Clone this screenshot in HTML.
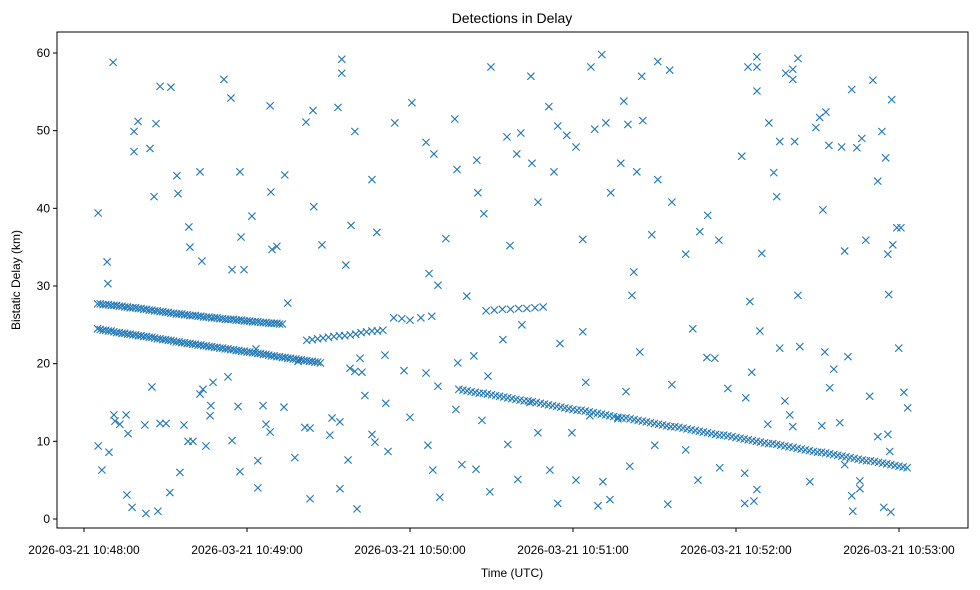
<!DOCTYPE html>
<html><head><meta charset="utf-8"><style>
body{margin:0;background:#fff;}
svg{display:block;font-family:"Liberation Sans",sans-serif;}
</style></head><body>
<svg id="chart" width="980" height="590">
<rect x="0" y="0" width="980" height="590" fill="#fff"/>
<text x="512" y="23" text-anchor="middle" font-size="14">Detections in Delay</text>
<text x="512" y="577" text-anchor="middle" font-size="12">Time (UTC)</text>
<text transform="translate(20,280) rotate(-90)" text-anchor="middle" font-size="12">Bistatic Delay (km)</text>
<g id="marks"></g>
<g id="axes"></g>
</svg>
<script>
// seconds after 10:48:00 UTC and bistatic delay in km
const lineATimes=[5,7,9,11,13,15,17,19,21,23,25,27,29,31,33,35,37,39,41,43,45,47,49,51,53,55,57,59,61,63,65,67,69,71,73];
const lineADelays=[27.7,27.6,27.6,27.5,27.4,27.3,27.2,27.2,27.1,27.0,26.9,26.8,26.7,26.6,26.5,26.4,26.3,26.2,26.2,26.1,26.0,25.9,25.9,25.8,25.7,25.7,25.6,25.5,25.5,25.4,25.3,25.3,25.2,25.2,25.1];
const lineA2Times=[6,8,10,12,14,16,18,20,22,24,26,28,30,32,34,36,38,40,42,44,46,48,50,52,54,56,58,60,62,64,66,68,70,72];
const lineA2Delays=[27.7,27.6,27.5,27.5,27.4,27.3,27.2,27.1,27.0,26.9,26.8,26.7,26.6,26.5,26.4,26.4,26.3,26.2,26.1,26.0,26.0,25.9,25.8,25.7,25.7,25.6,25.6,25.5,25.4,25.4,25.3,25.2,25.2,25.1];
const lineBTimes=[5,7,9,11,13,15,17,19,21,23,25,27,29,31,33,35,37,39,41,43,45,47,49,51,53,55,57,59,61,63,65,67,69,71,73,75,77,79,81,83,85,87];
const lineBDelays=[24.5,24.3,24.2,24.1,24.0,23.9,23.8,23.7,23.6,23.5,23.4,23.2,23.1,23.0,22.9,22.8,22.7,22.6,22.5,22.4,22.3,22.2,22.1,22.0,21.9,21.8,21.7,21.6,21.5,21.4,21.3,21.2,21.0,20.9,20.8,20.7,20.6,20.5,20.4,20.3,20.2,20.1];
const lineB2Times=[6,8,10,12,14,16,18,20,22,24,26,28,30,32,34,36,38,40,42,44,46,48,50,52,54,56,58,60,62,64,66,68,70,72,74,76,78,80,82,84,86];
const lineB2Delays=[24.4,24.3,24.2,24.0,23.9,23.8,23.7,23.6,23.5,23.4,23.3,23.2,23.1,23.0,22.8,22.7,22.6,22.5,22.4,22.3,22.2,22.1,22.0,21.9,21.8,21.7,21.6,21.5,21.4,21.3,21.2,21.1,21.0,20.9,20.8,20.7,20.6,20.5,20.4,20.3,20.2];
const segCTimes=[82,84,86,88,90,92,94,96,98,100,102,104,106,108,110,114,117,120,124,128,148,151,154,157,160,163,166,169];
const segCDelays=[23.0,23.1,23.2,23.3,23.4,23.5,23.6,23.6,23.7,23.8,24.0,24.1,24.2,24.2,24.3,25.9,25.8,25.6,25.9,26.1,26.8,26.9,27.0,27.0,27.1,27.1,27.2,27.3];
const lineFTimes=[138,141,144,147,150,153,156,159,162,165,168,171,174,177,180,183,186,189,192,195,198,201,204,207,210,213,216,219,222,225,228,231,234,237,240,243,246,249,252,255,258,261,264,267,270,273,276,279,282,285,288,291,294,297,300,303];
const lineFDelays=[16.7,16.5,16.3,16.2,16.0,15.8,15.6,15.4,15.2,15.1,14.9,14.7,14.5,14.3,14.1,14.0,13.8,13.6,13.4,13.2,13.0,12.9,12.7,12.5,12.3,12.1,11.9,11.8,11.6,11.4,11.2,11.0,10.8,10.7,10.5,10.3,10.1,9.9,9.7,9.6,9.4,9.2,9.0,8.8,8.6,8.5,8.3,8.1,7.9,7.7,7.5,7.4,7.2,7.0,6.8,6.6];
const lineF2Times=[139.5,142.5,145.5,148.5,151.5,154.5,157.5,160.5,163.5,166.5,169.5,172.5,175.5,178.5,181.5,184.5,187.5,190.5,193.5,196.5,199.5,202.5,205.5,208.5,211.5,214.5,217.5,220.5,223.5,226.5,229.5,232.5,235.5,238.5,241.5,244.5,247.5,250.5,253.5,256.5,259.5,262.5,265.5,268.5,271.5,274.5,277.5,280.5,283.5,286.5,289.5,292.5,295.5,298.5,301.5];
const lineF2Delays=[16.6,16.4,16.2,16.1,15.9,15.7,15.5,15.3,15.2,15.0,14.8,14.6,14.4,14.2,14.0,13.9,13.7,13.5,13.3,13.1,13.0,12.8,12.6,12.4,12.2,12.0,11.9,11.7,11.5,11.3,11.1,10.9,10.8,10.6,10.4,10.2,10.0,9.8,9.7,9.5,9.3,9.1,8.9,8.7,8.6,8.4,8.2,8.0,7.8,7.6,7.5,7.3,7.1,6.9,6.7];
const clutterTimes=[5.2,5.2,6.6,8.5,8.8,9.2,10.7,11.0,15.8,17.7,18.4,18.4,19.9,22.8,24.3,25.8,26.5,28.0,27.2,32.0,31.6,34.2,34.6,35.3,38.6,39.0,42.7,43.4,51.5,54.1,57.4,57.8,58.9,54.5,61.8,64.0,64.0,65.9,68.5,68.8,69.2,71.0,73.9,75.0,77.6,81.7,83.2,84.3,84.6,87.6,93.5,94.9,94.9,96.4,98.3,99.7,100.5,106.0,107.8,111.1,114.4,120.7,125.9,127.0,128.8,130.3,131.0,133.2,136.5,137.3,140.9,144.6,145.0,147.2,149.8,155.7,156.8,159.3,160.8,164.5,164.9,167.1,171.1,173.0,174.4,177.7,181.1,183.6,186.6,188.0,190.6,192.1,193.9,197.6,198.7,200.2,201.7,202.4,203.5,205.3,205.7,209.0,211.2,211.2,215.6,216.4,221.5,226.7,229.6,233.7,242.1,244.4,245.1,247.7,247.7,247.7,249.5,252.1,253.9,255.0,256.1,258.3,260.9,260.9,262.8,261.6,269.4,270.8,272.0,273.1,274.2,278.9,280.0,282.6,284.5,286.3,287.8,290.4,292.2,293.7,295.1,295.9,296.2,297.3,297.7,299.2,300.7,299.9,301.8,303.2,297.0,296.6,294.4,
11.4,13.2,16.2,15.5,22.4,25.0,28.0,30.2,36.8,38.3,40.1,42.7,43.8,44.9,46.4,46.7,47.5,53.0,54.5,56.7,57.4,63.3,67.0,68.5,73.6,78.8,81.3,83.2,90.5,91.3,94.2,94.2,97.2,97.9,99.7,101.6,102.3,103.4,106.0,107.1,110.8,111.9,117.8,120.0,125.9,126.6,128.4,130.3,136.9,137.6,139.1,143.5,144.3,146.5,148.7,149.4,154.2,156.0,159.7,161.2,164.1,167.1,171.5,174.4,175.2,179.6,181.1,183.6,184.7,186.2,189.2,191.0,193.6,196.5,199.5,200.9,204.6,210.1,214.9,216.4,221.5,224.1,226.0,229.3,232.2,234.0,237.0,243.2,243.2,246.6,247.7,243.6,245.8,248.8,251.7,256.1,258.0,259.8,260.9,262.8,263.5,267.2,272.7,271.6,274.5,276.0,278.2,280.0,281.2,282.6,283.0,285.6,285.6,289.2,292.2,295.9];
const clutterDelays=[39.4,9.4,6.3,33.1,30.3,8.6,58.8,13.4,3.1,1.5,49.9,47.3,51.2,0.7,47.7,41.5,50.9,55.7,1.0,55.6,3.4,44.2,41.9,6.0,37.6,35.0,44.7,33.2,56.6,54.2,44.7,36.3,32.1,32.1,39.0,7.5,4.0,14.6,53.2,42.1,34.7,35.1,44.3,27.8,7.9,51.1,2.6,52.6,40.2,35.3,53.0,59.2,57.4,32.7,37.8,49.9,1.3,43.7,36.9,14.9,51.0,53.6,48.5,31.6,47.0,30.1,2.8,36.1,51.5,45.0,28.7,46.2,42.0,39.3,58.2,49.2,35.2,47.0,49.7,57.0,45.8,40.8,53.1,44.7,50.6,49.4,47.9,36.0,58.2,50.2,59.8,51.0,42.0,45.8,53.8,50.8,28.8,31.8,44.7,57.0,51.3,36.6,43.7,58.9,57.8,40.8,34.1,37.0,39.1,35.9,46.7,58.2,28.0,59.5,58.2,55.1,34.2,51.0,44.6,41.5,48.6,57.4,56.6,57.9,59.3,48.6,50.4,51.7,39.8,52.4,48.1,47.9,34.5,55.3,47.8,49.0,35.9,56.5,43.5,49.9,46.5,34.1,28.9,54.0,35.3,37.5,37.5,22.0,16.3,14.3,0.9,8.7,1.5,
12.6,12.2,11.0,13.4,12.1,17.0,12.3,12.3,12.1,10.0,10.0,16.1,16.7,9.4,13.3,14.6,17.6,18.3,10.1,14.5,6.1,21.9,12.2,11.2,14.4,20.3,11.8,11.7,10.8,13.0,12.5,3.9,7.6,19.4,19.0,20.7,18.9,15.9,10.9,9.9,21.1,8.7,19.1,13.1,18.8,9.5,6.3,17.1,14.1,20.1,7.0,21.0,6.4,12.7,18.4,3.5,23.1,9.6,5.1,25.0,15.0,11.1,6.3,2.0,22.6,11.1,5.0,24.1,17.6,13.3,1.7,4.8,2.5,12.9,16.4,6.8,21.5,9.5,1.9,17.3,8.9,24.5,5.0,20.8,20.7,6.6,16.8,5.9,2.0,2.3,3.8,15.6,18.9,24.2,12.2,22.0,15.2,13.4,11.9,28.8,22.2,4.8,21.5,12.0,16.9,19.3,12.4,7.0,20.9,3.0,1.0,4.9,3.9,15.8,10.6,10.9];
const yTicks=[0,10,20,30,40,50,60];
const xTicks=[0,60,120,180,240,300];
const xTickLabels=["2026-03-21 10:48:00","2026-03-21 10:49:00","2026-03-21 10:50:00","2026-03-21 10:51:00","2026-03-21 10:52:00","2026-03-21 10:53:00"];

const L=57,R=968,T=32,B=528;
const xScale=t=>84+t*163/60;
const yScale=v=>519-v*466/60;
const NS="http://www.w3.org/2000/svg";
const marks=document.getElementById('marks');
const axes=document.getElementById('axes');
function mk(tag,attrs,parent){const e=document.createElementNS(NS,tag);for(const k in attrs)e.setAttribute(k,attrs[k]);parent.appendChild(e);return e;}
function drawSeries(ts,ds){
  for(let i=0;i<ts.length&&i<ds.length;i++){
    const x=xScale(ts[i]),y=yScale(ds[i]),s=3.6;
    const p=mk('path',{d:`M${x-s},${y-s}L${x+s},${y+s}M${x-s},${y+s}L${x+s},${y-s}`,stroke:'#1f77b4','stroke-width':1.1,fill:'none'},marks);
    
    
  }
}
drawSeries(lineATimes,lineADelays);
drawSeries(lineA2Times,lineA2Delays);
drawSeries(lineBTimes,lineBDelays);
drawSeries(lineB2Times,lineB2Delays);
drawSeries(segCTimes,segCDelays);
drawSeries(lineFTimes,lineFDelays);
drawSeries(lineF2Times,lineF2Delays);
drawSeries(clutterTimes,clutterDelays);

const frame=mk('rect',{x:L,y:T,width:R-L,height:B-T,fill:'none',stroke:'#000','stroke-width':1},axes);


yTicks.forEach(v=>{
  const y=yScale(v);
  mk('line',{x1:L-4,x2:L,y1:y,y2:y,stroke:'#000'},axes);
  const t=mk('text',{x:L-7,y:y+4,'text-anchor':'end','font-size':12},axes);
  t.textContent=v;
  
  
});
xTicks.forEach((v,i)=>{
  const x=xScale(v);
  mk('line',{x1:x,x2:x,y1:B,y2:B+4,stroke:'#000'},axes);
  const t=mk('text',{x:x,y:B+26,'text-anchor':'middle','font-size':12},axes);
  t.textContent=xTickLabels[i];
  
  
});
</script>
</body></html>
